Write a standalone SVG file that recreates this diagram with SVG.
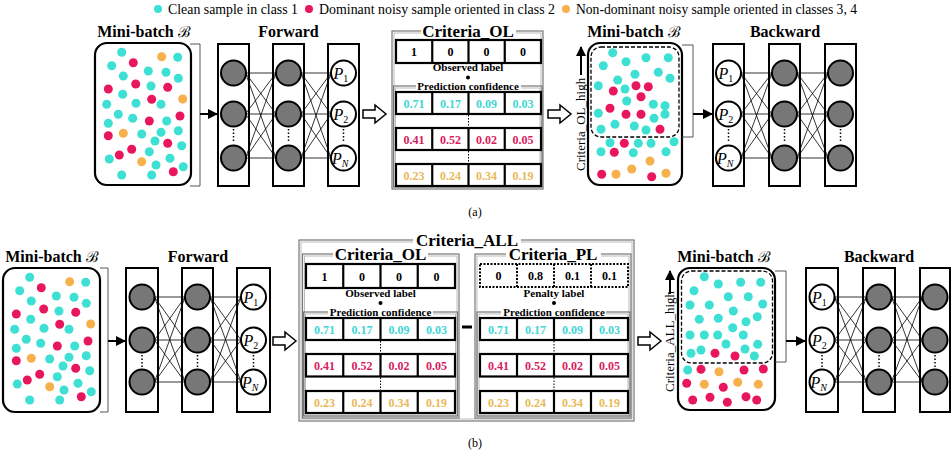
<svg xmlns="http://www.w3.org/2000/svg" xmlns:xlink="http://www.w3.org/1999/xlink" width="951" height="454" viewBox="0 0 951 454">
<style>
text{font-family:"Liberation Serif","Times New Roman",serif;fill:#000}
.c{fill:#3de0d3}.r{fill:#e8175d}.o{fill:#f6b04c}
.tc{fill:#3fd6d6}.tr{fill:#d81b60}.to{fill:#e9b95a}
.ttl{font-weight:bold;font-size:16px;text-anchor:middle}
.crit{font-weight:bold;font-size:17px;text-anchor:middle}
.sm{font-weight:bold;font-size:11px;text-anchor:middle}
.val{font-weight:bold;font-size:12px;text-anchor:middle}
.box{fill:#fff;stroke:#000;stroke-width:2.2}
.dash{fill:none;stroke:#000;stroke-width:1.3;stroke-dasharray:4 2}
.layer{fill:#fff;stroke:#000;stroke-width:2}
.hid{fill:#777;stroke:#000;stroke-width:2}
.out{fill:#fff;stroke:#000;stroke-width:2}
.wire{fill:none;stroke:#000;stroke-width:0.8}
.vdots{stroke:#000;stroke-width:1.5;stroke-dasharray:1.5 2}
.brk{fill:none;stroke:#444;stroke-width:0.9}
.arr{stroke:#000;stroke-width:2;fill:none}
.harr{fill:#fff;stroke:#000;stroke-width:1.5}
.g1{fill:none;stroke:#777;stroke-width:1.2}
.g2{fill:none;stroke:#bbb;stroke-width:1}
.cell{fill:#fff;stroke:#000;stroke-width:2.2}
.dcell{fill:#fff;stroke:#000;stroke-width:2;stroke-dasharray:2 1.5}
.vd{stroke:#000;stroke-width:1;stroke-dasharray:1.5 1.5}
.lab{font-style:italic;font-size:16px}
.sub{font-size:10px}
.rot{font-size:13px}
.leg{font-size:14px}
.scr{font-weight:normal;font-family:"DejaVu Serif","Liberation Serif",serif;font-size:15px}
</style>
<defs>
<marker id="ah" viewBox="0 0 10 10" refX="9" refY="5" markerWidth="5" markerHeight="5" orient="auto"><path d="M0,0 L10,5 L0,10 z" fill="#000"/></marker>
<path id="harrow" class="harr" d="M0,-4 H12 V-9 L23,0 L12,9 V4 H0 Z"/>
<g id="dotsA">
<g class="c">
<circle cx="121.7" cy="52.3" r="4.5"/><circle cx="177.7" cy="57.3" r="4.5"/><circle cx="111.7" cy="65.7" r="4.5"/><circle cx="148.3" cy="71" r="4.5"/><circle cx="166" cy="72.3" r="4.5"/><circle cx="123.3" cy="76" r="4.5"/><circle cx="178.3" cy="78.3" r="4.5"/><circle cx="151" cy="86" r="4.5"/><circle cx="122.7" cy="94.3" r="4.5"/><circle cx="106.7" cy="104.3" r="4.5"/><circle cx="136" cy="103.3" r="4.5"/><circle cx="161" cy="104.3" r="4.5"/><circle cx="118.3" cy="114.3" r="4.5"/><circle cx="132.7" cy="118.3" r="4.5"/><circle cx="166.7" cy="121" r="4.5"/><circle cx="108.3" cy="123.3" r="4.5"/><circle cx="141.7" cy="134" r="4.5"/><circle cx="161" cy="132.3" r="4.5"/><circle cx="178.3" cy="130.7" r="4.5"/><circle cx="155" cy="141" r="4.5"/><circle cx="181.7" cy="145.7" r="4.5"/><circle cx="149.3" cy="151.7" r="4.5"/><circle cx="170" cy="158.3" r="4.5"/><circle cx="109.3" cy="159" r="4.5"/><circle cx="156" cy="165" r="4.5"/><circle cx="183.3" cy="166.7" r="4.5"/><circle cx="121.7" cy="175" r="4.5"/><circle cx="151.7" cy="175" r="4.5"/>
</g>
<g class="r">
<circle cx="133.3" cy="62.7" r="4.5"/><circle cx="135.7" cy="84" r="4.5"/><circle cx="167.7" cy="87.3" r="4.5"/><circle cx="108.3" cy="89" r="4.5"/><circle cx="151.7" cy="99.3" r="4.5"/><circle cx="149.3" cy="121" r="4.5"/><circle cx="180" cy="116" r="4.5"/><circle cx="108.3" cy="135.7" r="4.5"/><circle cx="167.7" cy="143.3" r="4.5"/><circle cx="131.7" cy="149.3" r="4.5"/><circle cx="119.3" cy="155" r="4.5"/><circle cx="173.3" cy="171.7" r="4.5"/>
</g>
<g class="o">
<circle cx="161.7" cy="56.7" r="4.5"/><circle cx="182.7" cy="99" r="4.5"/><circle cx="123.3" cy="133.3" r="4.5"/><circle cx="141.7" cy="161.7" r="4.5"/>
</g>
</g>
</defs>
<rect width="951" height="454" fill="#fff"/>

<g id="legend">
<circle class="c" cx="158" cy="9" r="4"/>
<text class="leg" x="168" y="13.5" textLength="130" lengthAdjust="spacingAndGlyphs">Clean sample in class 1</text>
<circle class="r" cx="309" cy="9" r="4"/>
<text class="leg" x="319" y="13.5" textLength="236" lengthAdjust="spacingAndGlyphs">Dominant noisy sample oriented in class 2</text>
<circle class="o" cx="566" cy="9" r="4"/>
<text class="leg" x="576" y="13.5" textLength="281" lengthAdjust="spacingAndGlyphs">Non-dominant noisy sample oriented in classes 3, 4</text>
</g>

<!-- ================= (a) ================= -->
<g id="a-minibatch">
<text class="ttl" x="144" y="37">Mini-batch <tspan class="scr">ℬ</tspan></text>
<rect class="box" x="95" y="43" width="96" height="142" rx="12"/>
<use xlink:href="#dotsA"/>
</g>

<g id="a-forward">
<text class="ttl" x="288.5" y="37">Forward</text>
<rect class="layer" x="218" y="44" width="31" height="142"/>
<rect class="layer" x="273" y="44" width="31" height="142"/>
<rect class="layer" x="328" y="44" width="31" height="142"/>
<path class="wire" d="M245.5,73L276,73M245.5,73L276,114M245.5,73L276,158M245.5,114L276,73M245.5,114L276,114M245.5,114L276,158M245.5,158L276,73M245.5,158L276,114M245.5,158L276,158M301,73L331,73M301,73L331,114M301,73L331,158M301,114L331,73M301,114L331,114M301,114L331,158M301,158L331,73M301,158L331,114M301,158L331,158"/>
<circle class="hid" cx="233.5" cy="73" r="12.5"/><circle class="hid" cx="233.5" cy="114" r="12.5"/><circle class="hid" cx="233.5" cy="158" r="12.5"/>
<circle class="hid" cx="288.5" cy="73" r="12.5"/><circle class="hid" cx="288.5" cy="114" r="12.5"/><circle class="hid" cx="288.5" cy="158" r="12.5"/>
<circle class="out" cx="343.5" cy="73" r="12.5"/><circle class="out" cx="343.5" cy="114" r="12.5"/><circle class="out" cx="343.5" cy="158" r="12.5"/>
<line class="vdots" x1="233.5" y1="129" x2="233.5" y2="143"/><line class="vdots" x1="288.5" y1="129" x2="288.5" y2="143"/><line class="vdots" x1="343.5" y1="129" x2="343.5" y2="143"/>
<text class="lab" x="333.5" y="78.5">P<tspan class="sub" font-style="normal" dy="3">1</tspan></text>
<text class="lab" x="333.5" y="119.5">P<tspan class="sub" font-style="normal" dy="3">2</tspan></text>
<text class="lab" x="332" y="163.5">P<tspan class="sub" dy="3">N</tspan></text>
</g>

<g id="a-criteria-ol">
<rect class="g1" x="392" y="31" width="151" height="158"/>
<rect class="g2" x="394" y="33" width="147" height="154"/>
<rect x="421" y="23" width="95" height="15" fill="#fff"/>
<text class="crit" x="468" y="36.5">Criteria_OL</text>
<rect class="cell" x="396" y="40" width="145" height="23"/>
<path class="cell" d="M432.25,40V63M468.5,40V63M504.75,40V63"/>
<text class="val" x="414.1" y="56">1</text><text class="val" x="450.4" y="56">0</text><text class="val" x="486.6" y="56">0</text><text class="val" x="522.9" y="56">0</text>
<text class="sm" x="468" y="71">Observed label</text>
<circle cx="468" cy="77.5" r="2"/>
<rect class="g1" x="393.5" y="86" width="148.5" height="101"/>
<rect class="g2" x="395.5" y="88" width="144.5" height="97"/>
<rect x="416" y="80" width="105" height="12" fill="#fff"/>
<text class="sm" x="468" y="90">Prediction confidence</text>
<rect class="cell" x="396" y="92" width="145" height="22"/>
<path class="cell" d="M432.25,92V114M468.5,92V114M504.75,92V114"/>
<text class="val tc" x="414.1" y="107.5">0.71</text><text class="val tc" x="450.4" y="107.5">0.17</text><text class="val tc" x="486.6" y="107.5">0.09</text><text class="val tc" x="522.9" y="107.5">0.03</text>
<line class="vd" x1="468.5" y1="115" x2="468.5" y2="127"/>
<rect class="cell" x="396" y="128" width="145" height="22"/>
<path class="cell" d="M432.25,128V150M468.5,128V150M504.75,128V150"/>
<text class="val tr" x="414.1" y="143.5">0.41</text><text class="val tr" x="450.4" y="143.5">0.52</text><text class="val tr" x="486.6" y="143.5">0.02</text><text class="val tr" x="522.9" y="143.5">0.05</text>
<line class="vd" x1="468.5" y1="151" x2="468.5" y2="163"/>
<rect class="cell" x="396" y="164" width="145" height="22"/>
<path class="cell" d="M432.25,164V186M468.5,164V186M504.75,164V186"/>
<text class="val to" x="414.1" y="179.5">0.23</text><text class="val to" x="450.4" y="179.5">0.24</text><text class="val to" x="486.6" y="179.5">0.34</text><text class="val to" x="522.9" y="179.5">0.19</text>
</g>

<g id="a-minibatch-sorted">
<text class="ttl" x="634" y="37">Mini-batch <tspan class="scr">ℬ</tspan></text>
<rect class="box" x="588" y="43" width="94" height="142" rx="12"/>
<rect class="dash" x="591" y="47" width="88" height="90" rx="10"/>
<g class="c">
<circle cx="612.7" cy="52.7" r="4.5"/><circle cx="626" cy="61.7" r="4.5"/><circle cx="646" cy="57.7" r="4.5"/><circle cx="668.3" cy="57.7" r="4.5"/><circle cx="603.3" cy="65.7" r="4.5"/><circle cx="658.3" cy="72.3" r="4.5"/><circle cx="635" cy="74.3" r="4.5"/><circle cx="617.7" cy="80" r="4.5"/><circle cx="670" cy="78.3" r="4.5"/><circle cx="598.3" cy="85.7" r="4.5"/><circle cx="625" cy="89" r="4.5"/><circle cx="626.7" cy="101" r="4.5"/><circle cx="653.3" cy="104.3" r="4.5"/><circle cx="665" cy="105.7" r="4.5"/><circle cx="598.3" cy="113.3" r="4.5"/><circle cx="665" cy="114.3" r="4.5"/><circle cx="654" cy="118.3" r="4.5"/><circle cx="615" cy="124.3" r="4.5"/><circle cx="601" cy="129.3" r="4.5"/><circle cx="634.3" cy="126" r="4.5"/><circle cx="646" cy="130" r="4.5"/><circle cx="610" cy="142.7" r="4.5"/><circle cx="638.3" cy="143.3" r="4.5"/><circle cx="651" cy="143.3" r="4.5"/><circle cx="674" cy="141.7" r="4.5"/><circle cx="601" cy="151.7" r="4.5"/><circle cx="633.3" cy="152.7" r="4.5"/><circle cx="666" cy="151.7" r="4.5"/>
</g>
<g class="r">
<circle cx="636" cy="85.7" r="4.5"/><circle cx="648.3" cy="86.7" r="4.5"/><circle cx="613.3" cy="91" r="4.5"/><circle cx="641" cy="96.7" r="4.5"/><circle cx="610" cy="108.3" r="4.5"/><circle cx="626" cy="114.3" r="4.5"/><circle cx="641" cy="114.3" r="4.5"/><circle cx="660" cy="129.3" r="4.5"/><circle cx="624.3" cy="143.3" r="4.5"/><circle cx="614.3" cy="152.3" r="4.5"/><circle cx="601.7" cy="174.3" r="4.5"/><circle cx="651.7" cy="176.7" r="4.5"/>
</g>
<g class="o">
<circle cx="650" cy="161" r="4.5"/><circle cx="631.7" cy="169" r="4.5"/><circle cx="616" cy="174.3" r="4.5"/><circle cx="666" cy="173.3" r="4.5"/>
</g>
<text class="rot" transform="translate(585,171) rotate(-90)">Criteria_OL_high</text>
</g>

<g id="a-backward">
<text class="ttl" x="785" y="37">Backward</text>
<rect class="layer" x="713" y="44" width="31" height="142"/>
<rect class="layer" x="769" y="44" width="31" height="142"/>
<rect class="layer" x="825" y="44" width="31" height="142"/>
<path class="wire" d="M741,73L772,73M741,73L772,114M741,73L772,158M741,114L772,73M741,114L772,114M741,114L772,158M741,158L772,73M741,158L772,114M741,158L772,158M797,73L828,73M797,73L828,114M797,73L828,158M797,114L828,73M797,114L828,114M797,114L828,158M797,158L828,73M797,158L828,114M797,158L828,158"/>
<circle class="out" cx="728.5" cy="73" r="12.5"/><circle class="out" cx="728.5" cy="114" r="12.5"/><circle class="out" cx="728.5" cy="158" r="12.5"/>
<circle class="hid" cx="784.5" cy="73" r="12.5"/><circle class="hid" cx="784.5" cy="114" r="12.5"/><circle class="hid" cx="784.5" cy="158" r="12.5"/>
<circle class="hid" cx="840.5" cy="73" r="12.5"/><circle class="hid" cx="840.5" cy="114" r="12.5"/><circle class="hid" cx="840.5" cy="158" r="12.5"/>
<line class="vdots" x1="728.5" y1="129" x2="728.5" y2="143"/><line class="vdots" x1="784.5" y1="129" x2="784.5" y2="143"/><line class="vdots" x1="840.5" y1="129" x2="840.5" y2="143"/>
<text class="lab" x="718.5" y="78.5">P<tspan class="sub" font-style="normal" dy="3">1</tspan></text>
<text class="lab" x="718.5" y="119.5">P<tspan class="sub" font-style="normal" dy="3">2</tspan></text>
<text class="lab" x="717" y="163.5">P<tspan class="sub" dy="3">N</tspan></text>
</g>

<g id="a-connectors">
<path class="brk" d="M190,44H200V186H190"/>
<line class="arr" x1="200" y1="114" x2="217" y2="114" marker-end="url(#ah)"/>
<use xlink:href="#harrow" x="363" y="114"/>
<use xlink:href="#harrow" x="548" y="114"/>
<line class="arr" x1="581" y1="75" x2="581" y2="47" stroke-width="1.3" marker-end="url(#ah)"/>
<path class="brk" d="M682,45H693V137H682"/>
<line class="arr" x1="693" y1="114" x2="712" y2="114" marker-end="url(#ah)"/>
</g>

<text x="475" y="216" font-size="12" text-anchor="middle">(a)</text>

<!-- ================= (b) ================= -->
<g id="b-minibatch">
<text class="ttl" x="52" y="262">Mini-batch <tspan class="scr">ℬ</tspan></text>
<rect class="box" x="3" y="268" width="97" height="144" rx="12"/>
<use xlink:href="#dotsA" transform="translate(-92,225)"/>
</g>

<g id="b-forward">
<text class="ttl" x="198" y="262">Forward</text>
<rect class="layer" x="126" y="268" width="32" height="144"/>
<rect class="layer" x="182" y="268" width="31" height="144"/>
<rect class="layer" x="237" y="268" width="33" height="144"/>
<path class="wire" d="M154.5,297L185,297M154.5,297L185,340M154.5,297L185,382M154.5,340L185,297M154.5,340L185,340M154.5,340L185,382M154.5,382L185,297M154.5,382L185,340M154.5,382L185,382M210,297L241,297M210,297L241,340M210,297L241,382M210,340L241,297M210,340L241,340M210,340L241,382M210,382L241,297M210,382L241,340M210,382L241,382"/>
<circle class="hid" cx="142" cy="297" r="12.5"/><circle class="hid" cx="142" cy="340" r="12.5"/><circle class="hid" cx="142" cy="382" r="12.5"/>
<circle class="hid" cx="197.5" cy="297" r="12.5"/><circle class="hid" cx="197.5" cy="340" r="12.5"/><circle class="hid" cx="197.5" cy="382" r="12.5"/>
<circle class="out" cx="253.5" cy="297" r="12.5"/><circle class="out" cx="253.5" cy="340" r="12.5"/><circle class="out" cx="253.5" cy="382" r="12.5"/>
<line class="vdots" x1="142" y1="355" x2="142" y2="367"/><line class="vdots" x1="197.5" y1="355" x2="197.5" y2="367"/><line class="vdots" x1="253.5" y1="355" x2="253.5" y2="367"/>
<text class="lab" x="243.5" y="302.5">P<tspan class="sub" font-style="normal" dy="3">1</tspan></text>
<text class="lab" x="243.5" y="345.5">P<tspan class="sub" font-style="normal" dy="3">2</tspan></text>
<text class="lab" x="242" y="387.5">P<tspan class="sub" dy="3">N</tspan></text>
</g>

<g id="b-criteria-all">
<rect class="g1" x="299" y="240" width="335" height="181"/>
<rect class="g2" x="301" y="242" width="331" height="177"/>
<rect x="413" y="232" width="108" height="16" fill="#fff"/>
<text class="crit" x="467" y="246">Criteria_ALL</text>
</g>

<g id="b-criteria-ol">
<rect class="g1" x="302.5" y="254" width="156.5" height="164"/>
<rect class="g2" x="304.5" y="256" width="152.5" height="160"/>
<rect x="333" y="246" width="95" height="15" fill="#fff"/>
<text class="crit" x="380.5" y="260">Criteria_OL</text>
<rect class="cell" x="306" y="264" width="149" height="24"/>
<path class="cell" d="M343.25,264V288M380.5,264V288M417.75,264V288"/>
<text class="val" x="324.6" y="280.5">1</text><text class="val" x="361.9" y="280.5">0</text><text class="val" x="399.1" y="280.5">0</text><text class="val" x="436.4" y="280.5">0</text>
<text class="sm" x="380.5" y="296.5">Observed label</text>
<circle cx="380.5" cy="303" r="2"/>
<rect class="g1" x="303.5" y="312" width="154" height="104"/>
<rect class="g2" x="305.5" y="314" width="150" height="100"/>
<rect x="328" y="306" width="105" height="12" fill="#fff"/>
<text class="sm" x="380.5" y="316">Prediction confidence</text>
<rect class="cell" x="306" y="318" width="149" height="22"/>
<path class="cell" d="M343.25,318V340M380.5,318V340M417.75,318V340"/>
<text class="val tc" x="324.6" y="333.5">0.71</text><text class="val tc" x="361.9" y="333.5">0.17</text><text class="val tc" x="399.1" y="333.5">0.09</text><text class="val tc" x="436.4" y="333.5">0.03</text>
<line class="vd" x1="380.5" y1="341" x2="380.5" y2="353"/>
<rect class="cell" x="306" y="354" width="149" height="22.5"/>
<path class="cell" d="M343.25,354V376.5M380.5,354V376.5M417.75,354V376.5"/>
<text class="val tr" x="324.6" y="369.5">0.41</text><text class="val tr" x="361.9" y="369.5">0.52</text><text class="val tr" x="399.1" y="369.5">0.02</text><text class="val tr" x="436.4" y="369.5">0.05</text>
<line class="vd" x1="380.5" y1="377.5" x2="380.5" y2="390"/>
<rect class="cell" x="306" y="391" width="149" height="22"/>
<path class="cell" d="M343.25,391V413M380.5,391V413M417.75,391V413"/>
<text class="val to" x="324.6" y="406.5">0.23</text><text class="val to" x="361.9" y="406.5">0.24</text><text class="val to" x="399.1" y="406.5">0.34</text><text class="val to" x="436.4" y="406.5">0.19</text>
</g>

<g id="b-minus">
<line x1="462" y1="327" x2="472" y2="327" stroke="#000" stroke-width="3"/>
</g>

<g id="b-criteria-pl">
<rect class="g1" x="475" y="254" width="156" height="164"/>
<rect class="g2" x="477" y="256" width="152" height="160"/>
<rect x="506" y="246" width="95" height="15" fill="#fff"/>
<text class="crit" x="553" y="260">Criteria_PL</text>
<rect class="dcell" x="480" y="264" width="148" height="23"/>
<path class="dcell" d="M517,264V287M554,264V287M591,264V287"/>
<text class="val" x="498.5" y="280">0</text><text class="val" x="535.5" y="280">0.8</text><text class="val" x="572.5" y="280">0.1</text><text class="val" x="609.5" y="280">0.1</text>
<text class="sm" x="554" y="296.5">Penalty label</text>
<circle cx="554" cy="303" r="2"/>
<rect class="g1" x="477" y="312" width="153" height="104"/>
<rect class="g2" x="479" y="314" width="149" height="100"/>
<rect x="501" y="306" width="105" height="12" fill="#fff"/>
<text class="sm" x="554" y="316">Prediction confidence</text>
<rect class="cell" x="480" y="318" width="148" height="22"/>
<path class="cell" d="M517,318V340M554,318V340M591,318V340"/>
<text class="val tc" x="498.5" y="333.5">0.71</text><text class="val tc" x="535.5" y="333.5">0.17</text><text class="val tc" x="572.5" y="333.5">0.09</text><text class="val tc" x="609.5" y="333.5">0.03</text>
<line class="vd" x1="554" y1="341" x2="554" y2="353"/>
<rect class="cell" x="480" y="354" width="148" height="22.5"/>
<path class="cell" d="M517,354V376.5M554,354V376.5M591,354V376.5"/>
<text class="val tr" x="498.5" y="369.5">0.41</text><text class="val tr" x="535.5" y="369.5">0.52</text><text class="val tr" x="572.5" y="369.5">0.02</text><text class="val tr" x="609.5" y="369.5">0.05</text>
<line class="vd" x1="554" y1="377.5" x2="554" y2="390"/>
<rect class="cell" x="480" y="391" width="148" height="22"/>
<path class="cell" d="M517,391V413M554,391V413M591,391V413"/>
<text class="val to" x="498.5" y="406.5">0.23</text><text class="val to" x="535.5" y="406.5">0.24</text><text class="val to" x="572.5" y="406.5">0.34</text><text class="val to" x="609.5" y="406.5">0.19</text>
</g>

<g id="b-minibatch-sorted">
<text class="ttl" x="724" y="262">Mini-batch <tspan class="scr">ℬ</tspan></text>
<rect class="box" x="678" y="268" width="97" height="142" rx="12"/>
<rect class="dash" x="681.5" y="271" width="91" height="92" rx="10"/>
<g class="c">
<circle cx="704.3" cy="276.7" r="4.5"/><circle cx="718.3" cy="284" r="4.5"/><circle cx="740.7" cy="282.3" r="4.5"/><circle cx="760.7" cy="282.3" r="4.5"/><circle cx="694" cy="290.7" r="4.5"/><circle cx="728.3" cy="296.7" r="4.5"/><circle cx="748.3" cy="296.7" r="4.5"/><circle cx="690" cy="305" r="4.5"/><circle cx="709.3" cy="305" r="4.5"/><circle cx="733.3" cy="311" r="4.5"/><circle cx="762.7" cy="304" r="4.5"/><circle cx="699.3" cy="319.3" r="4.5"/><circle cx="718.3" cy="318.3" r="4.5"/><circle cx="746" cy="321.7" r="4.5"/><circle cx="757.3" cy="316.7" r="4.5"/><circle cx="732.7" cy="327.7" r="4.5"/><circle cx="690" cy="335" r="4.5"/><circle cx="704.3" cy="335" r="4.5"/><circle cx="717.7" cy="335" r="4.5"/><circle cx="743.3" cy="335" r="4.5"/><circle cx="726" cy="344" r="4.5"/><circle cx="757.7" cy="344.3" r="4.5"/><circle cx="701" cy="350" r="4.5"/><circle cx="691" cy="353.3" r="4.5"/><circle cx="745" cy="349" r="4.5"/><circle cx="754.3" cy="356" r="4.5"/><circle cx="687.7" cy="370" r="4.5"/>
</g>
<g class="r">
<circle cx="715" cy="353.3" r="4.5"/><circle cx="735" cy="356" r="4.5"/><circle cx="701" cy="369.3" r="4.5"/><circle cx="744" cy="370" r="4.5"/><circle cx="763.3" cy="369" r="4.5"/><circle cx="686.7" cy="383.3" r="4.5"/><circle cx="723.3" cy="387.3" r="4.5"/><circle cx="692.7" cy="400" r="4.5"/><circle cx="710" cy="397.3" r="4.5"/><circle cx="727.3" cy="402.3" r="4.5"/><circle cx="746" cy="396.7" r="4.5"/><circle cx="756.7" cy="400" r="4.5"/>
</g>
<g class="o">
<circle cx="719" cy="371.7" r="4.5"/><circle cx="704.3" cy="384.3" r="4.5"/><circle cx="737.7" cy="382.3" r="4.5"/><circle cx="758.3" cy="384.3" r="4.5"/>
</g>
<text class="rot" font-size="12.5" transform="translate(674,392) rotate(-90)">Criteria_ALL_high</text>
</g>

<g id="b-backward">
<text class="ttl" x="879" y="262">Backward</text>
<rect class="layer" x="806" y="268" width="32" height="144"/>
<rect class="layer" x="863" y="268" width="32" height="144"/>
<rect class="layer" x="920" y="268" width="30" height="144"/>
<path class="wire" d="M834.5,297L866.5,297M834.5,297L866.5,340M834.5,297L866.5,382M834.5,340L866.5,297M834.5,340L866.5,340M834.5,340L866.5,382M834.5,382L866.5,297M834.5,382L866.5,340M834.5,382L866.5,382M891.5,297L922.5,297M891.5,297L922.5,340M891.5,297L922.5,382M891.5,340L922.5,297M891.5,340L922.5,340M891.5,340L922.5,382M891.5,382L922.5,297M891.5,382L922.5,340M891.5,382L922.5,382"/>
<circle class="out" cx="822" cy="297" r="12.5"/><circle class="out" cx="822" cy="340" r="12.5"/><circle class="out" cx="822" cy="382" r="12.5"/>
<circle class="hid" cx="879" cy="297" r="12.5"/><circle class="hid" cx="879" cy="340" r="12.5"/><circle class="hid" cx="879" cy="382" r="12.5"/>
<circle class="hid" cx="935" cy="297" r="12.5"/><circle class="hid" cx="935" cy="340" r="12.5"/><circle class="hid" cx="935" cy="382" r="12.5"/>
<line class="vdots" x1="822" y1="355" x2="822" y2="367"/><line class="vdots" x1="879" y1="355" x2="879" y2="367"/><line class="vdots" x1="935" y1="355" x2="935" y2="367"/>
<text class="lab" x="812" y="302.5">P<tspan class="sub" font-style="normal" dy="3">1</tspan></text>
<text class="lab" x="812" y="345.5">P<tspan class="sub" font-style="normal" dy="3">2</tspan></text>
<text class="lab" x="810.5" y="387.5">P<tspan class="sub" dy="3">N</tspan></text>
</g>

<g id="b-connectors">
<path class="brk" d="M100,268H108V412H100"/>
<line class="arr" x1="108" y1="341" x2="125" y2="341" marker-end="url(#ah)"/>
<use xlink:href="#harrow" x="273" y="341"/>
<use xlink:href="#harrow" x="638" y="341"/>
<line class="arr" x1="670" y1="294" x2="670" y2="271" stroke-width="1.3" marker-end="url(#ah)"/>
<path class="brk" d="M775,271H786V362H775"/>
<line class="arr" x1="786" y1="341" x2="805" y2="341" marker-end="url(#ah)"/>
</g>

<text x="475" y="447" font-size="12" text-anchor="middle">(b)</text>
</svg>
